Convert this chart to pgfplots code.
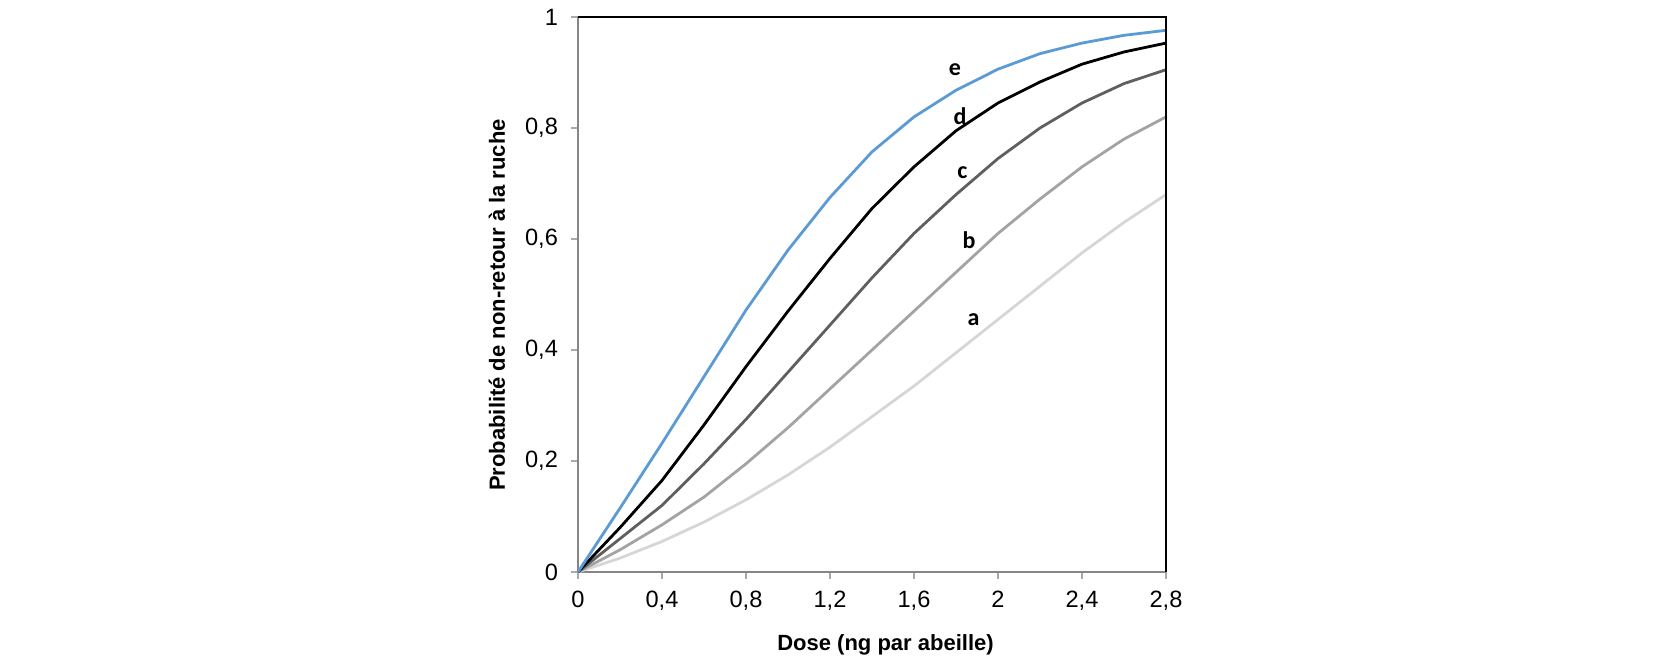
\documentclass[border=0pt]{standalone}
\usepackage{fontspec}
\setmainfont{Liberation Sans}
\newfontfamily\calib{Carlito}
\usepackage{pgfplots}
\pgfplotsset{compat=1.18}
\definecolor{cE}{HTML}{5B9BD5}
\definecolor{cC}{HTML}{5F5F5F}
\definecolor{cB}{HTML}{A3A3A3}
\definecolor{cA}{HTML}{D6D6D6}
\definecolor{axgray}{HTML}{868686}
\begin{document}
\begin{tikzpicture}
\useasboundingbox (-289pt,-44pt) rectangle (541pt,286pt);
\begin{axis}[
  at={(0,0)}, anchor=origin,
  scale only axis,
  width=294pt, height=277.5pt,
  xmin=0, xmax=2.8, ymin=0, ymax=1,
  axis x line*=bottom, axis y line*=left,
  axis line style={-, draw=axgray, line width=0.8pt},
  tick align=outside,
  major tick length=3.5pt,
  tick style={draw=axgray!70, line width=0.6pt},
  xtick={0,0.4,0.8,1.2,1.6,2,2.4,2.8},
  xticklabels={0,{0,4},{0,8},{1,2},{1,6},2,{2,4},{2,8}},
  ytick={0,0.2,0.4,0.6,0.8,1},
  yticklabels={0,{0,2},{0,4},{0,6},{0,8},1},
  /pgf/number format/assume math mode=true,
  ticklabel style={font=\fontsize{11.8}{14}\selectfont},
  xticklabel style={yshift=-2.5pt},
  yticklabel style={xshift=-3pt},
  xlabel={\bfseries Dose (ng par abeille)},
  ylabel={\bfseries Probabilité de non-retour à la ruche},
  label style={font=\fontsize{11}{13}\selectfont},
  xlabel style={at={(axis description cs:0.523,0)}, anchor=center, yshift=-36.5pt},
  ylabel style={at={([xshift=-40.5pt]axis description cs:0,0.481)}, anchor=center},
  clip=false,
]
\addplot[cA, line width=1.4pt] coordinates {(0,0) (0.2,0.025) (0.4,0.055) (0.6,0.09) (0.8,0.13) (1.0,0.175) (1.2,0.225) (1.4,0.28) (1.6,0.335) (1.8,0.395) (2.0,0.455) (2.2,0.515) (2.4,0.575) (2.6,0.63) (2.8,0.68)};
\addplot[cB, line width=1.4pt] coordinates {(0,0) (0.2,0.04) (0.4,0.085) (0.6,0.135) (0.8,0.195) (1.0,0.26) (1.2,0.33) (1.4,0.4) (1.6,0.47) (1.8,0.54) (2.0,0.61) (2.2,0.672) (2.4,0.73) (2.6,0.78) (2.8,0.82)};
\addplot[cC, line width=1.4pt] coordinates {(0,0) (0.2,0.06) (0.4,0.12) (0.6,0.195) (0.8,0.275) (1.0,0.36) (1.2,0.445) (1.4,0.53) (1.6,0.61) (1.8,0.68) (2.0,0.745) (2.2,0.8) (2.4,0.845) (2.6,0.88) (2.8,0.905)};
\addplot[black, line width=1.4pt] coordinates {(0,0) (0.2,0.08) (0.4,0.165) (0.6,0.265) (0.8,0.37) (1.0,0.47) (1.2,0.565) (1.4,0.655) (1.6,0.73) (1.8,0.795) (2.0,0.845) (2.2,0.883) (2.4,0.915) (2.6,0.937) (2.8,0.953)};
\addplot[cE, line width=1.4pt] coordinates {(0,0) (0.2,0.115) (0.4,0.232) (0.6,0.352) (0.8,0.472) (1.0,0.58) (1.2,0.675) (1.4,0.757) (1.6,0.82) (1.8,0.868) (2.0,0.906) (2.2,0.934) (2.4,0.953) (2.6,0.967) (2.8,0.976)};
\draw[black, line width=0.8pt] (rel axis cs:0,1) -- (rel axis cs:1,1) -- (rel axis cs:1,0);
\node[font=\calib\bfseries\fontsize{12}{14}\selectfont] at (axis cs:1.795,0.905) {e};
\node[font=\calib\bfseries\fontsize{12}{14}\selectfont] at (axis cs:1.819,0.822) {d};
\node[font=\calib\bfseries\fontsize{12}{14}\selectfont] at (axis cs:1.83,0.719) {c};
\node[font=\calib\bfseries\fontsize{12}{14}\selectfont] at (axis cs:1.862,0.598) {b};
\node[font=\calib\bfseries\fontsize{12}{14}\selectfont] at (axis cs:1.883,0.455) {a};
\end{axis}
\end{tikzpicture}
\end{document}
